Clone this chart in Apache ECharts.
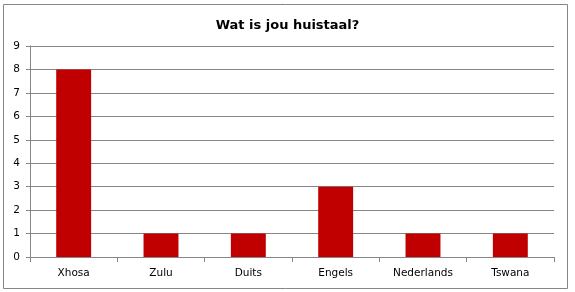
<!DOCTYPE html>
<html><head><meta charset="utf-8">
<script src="https://cdn.jsdelivr.net/npm/echarts@6/dist/echarts.min.js"></script>
<style>html,body{margin:0;padding:0;background:#fff}#c{width:575px;height:292px}</style>
</head><body><div id="c"></div>
<script>
const categories = ["Xhosa","Zulu","Duits","Engels","Nederlands","Tswana"];
const values = [8,1,1,3,1,1];
const titleText = "Wat is jou huistaal?";
const chart = echarts.init(document.getElementById('c'), null, {renderer:'canvas'});
chart.setOption({
  animation:false,
  graphic:[{type:'rect',shape:{x:3.5,y:4.5,width:564,height:284},style:{fill:'none',stroke:'#868686',lineWidth:1}}],
  title:{text:titleText,left:'center',top:14,textStyle:{fontFamily:'DejaVu Sans',fontWeight:'bold',fontSize:13,color:'#000'}},
  grid:{left:30,right:21,top:46,bottom:35,containLabel:false},
  xAxis:{type:'category',data:categories,
    axisLine:{lineStyle:{color:'#868686'}},
    axisTick:{show:true,length:5,inside:false,lineStyle:{color:'#868686'},alignWithLabel:false},
    axisLabel:{color:'#000',fontFamily:'DejaVu Sans',fontSize:10.5,margin:11}},
  yAxis:{type:'value',min:0,max:9,interval:1,
    axisLine:{show:true,lineStyle:{color:'#868686'}},
    axisTick:{show:true,length:4,lineStyle:{color:'#868686'}},
    axisLabel:{color:'#000',fontFamily:'DejaVu Sans',fontSize:10.5,margin:10},
    splitLine:{lineStyle:{color:'#868686'}}},
  series:[{type:'bar',data:values,barWidth:'40%',itemStyle:{color:'#C00000'}}]
});
</script></body></html>
